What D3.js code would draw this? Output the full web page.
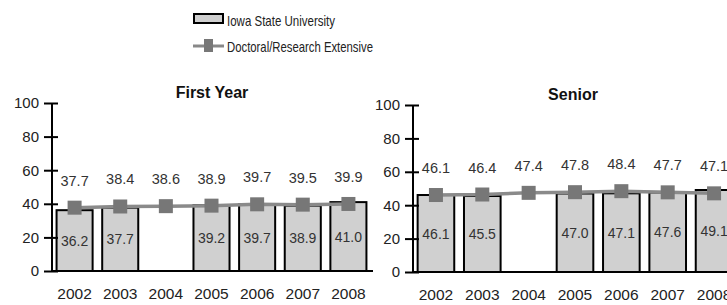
<!DOCTYPE html>
<html>
<head>
<meta charset="utf-8">
<script src="https://cdn.jsdelivr.net/npm/d3@7"></script>
<style>
    body { margin: 0; background: #fff; }
    svg { display: block; font-family: "Liberation Sans", Arial, sans-serif; }
</style>
</head>
<body>
<svg id="chart" width="727" height="305"></svg>
<script>
var years = ["2002", "2003", "2004", "2005", "2006", "2007", "2008"];
var yTicks = [0, 20, 40, 60, 80, 100];

var firstYearIsu = [36.2, 37.7, null, 39.2, 39.7, 38.9, 41.0];
var firstYearDre = [37.7, 38.4, 38.6, 38.9, 39.7, 39.5, 39.9];
var seniorIsu = [46.1, 45.5, null, 47.0, 47.1, 47.6, 49.1];
var seniorDre = [46.1, 46.4, 47.4, 47.8, 48.4, 47.7, 47.1];

var barName = "Iowa State University";
var lineName = "Doctoral/Research Extensive";

var svg = d3.select("#chart");

// legend (condensed font in the original, so squeeze the text)
var legend = svg.append("g");
legend.append("rect")
    .attr("x", 194).attr("y", 14)
    .attr("width", 29).attr("height", 9)
    .attr("fill", "#cfcfcf")
    .attr("stroke", "#000")
    .attr("stroke-width", 2);
legend.append("text")
    .attr("x", 227).attr("y", 26)
    .attr("font-size", 15).attr("fill", "#222")
    .attr("textLength", 108).attr("lengthAdjust", "spacingAndGlyphs")
    .text(barName);
legend.append("line")
    .attr("x1", 193).attr("x2", 224)
    .attr("y1", 46).attr("y2", 46)
    .attr("stroke", "#888").attr("stroke-width", 3);
legend.append("rect")
    .attr("x", 204).attr("y", 39)
    .attr("width", 9).attr("height", 13)
    .attr("fill", "#777");
legend.append("text")
    .attr("x", 227).attr("y", 51.5)
    .attr("font-size", 15).attr("fill", "#222")
    .attr("textLength", 146).attr("lengthAdjust", "spacingAndGlyphs")
    .text(lineName);

function drawPanel(p) {
    var g = svg.append("g");

    var x = d3.scaleBand()
        .domain(years)
        .range([p.left, p.right])
        .paddingInner(0.21)
        .paddingOuter(0.1);

    var y = d3.scaleLinear()
        .domain([0, 100])
        .range([p.bottom, p.top]);

    var rows = years.map((yr, i) => ({ year: yr, bar: p.bars[i], line: p.line[i] }));

    // bars
    g.selectAll(".bar")
        .data(rows.filter(d => d.bar != null))
        .enter().append("rect")
        .attr("x", d => x(d.year))
        .attr("y", d => y(d.bar))
        .attr("width", x.bandwidth())
        .attr("height", d => y(0) - y(d.bar))
        .attr("fill", "#d0d0d0")
        .attr("stroke", "#000")
        .attr("stroke-width", 2);

    g.selectAll(".barlabel")
        .data(rows.filter(d => d.bar != null))
        .enter().append("text")
        .attr("x", d => x(d.year) + x.bandwidth() / 2)
        .attr("y", d => y(d.bar / 2) + 5)
        .attr("text-anchor", "middle")
        .attr("font-size", 14).attr("fill", "#333")
        .text(d => d.bar.toFixed(1));

    // axis
    var yAxis = d3.axisLeft(y).tickValues(yTicks).tickSize(8).tickPadding(5);
    var ax = g.append("g")
        .attr("transform", `translate(${p.left},0)`)
        .call(yAxis);
    ax.select(".domain").remove();
    ax.selectAll(".tick line").attr("x2", -8).attr("x1", 6).attr("stroke", "#000").attr("stroke-width", 2);
    ax.selectAll(".tick text")
        .attr("font-size", 15).attr("fill", "#222")
        .attr("font-family", "Liberation Sans, Arial, sans-serif");
    g.append("line")
        .attr("x1", p.left).attr("x2", p.left)
        .attr("y1", y(100)).attr("y2", y(0))
        .attr("stroke", "#000").attr("stroke-width", 2);
    g.append("line")
        .attr("x1", p.left).attr("x2", p.right + 2)
        .attr("y1", y(0)).attr("y2", y(0))
        .attr("stroke", "#000").attr("stroke-width", 2);

    // line series
    var line = d3.line()
        .x(d => x(d.year) + x.bandwidth() / 2)
        .y(d => y(d.line));
    g.append("path")
        .datum(rows)
        .attr("fill", "none")
        .attr("stroke", "#8a8a8a")
        .attr("stroke-width", 3.5)
        .attr("d", line);
    g.selectAll(".marker")
        .data(rows)
        .enter().append("rect")
        .attr("x", d => x(d.year) + x.bandwidth() / 2 - 7)
        .attr("y", d => y(d.line) - 7)
        .attr("width", 14).attr("height", 14)
        .attr("fill", "#777");
    g.selectAll(".linelabel")
        .data(rows)
        .enter().append("text")
        .attr("x", d => x(d.year) + x.bandwidth() / 2)
        .attr("y", d => y(d.line) - 22)
        .attr("text-anchor", "middle")
        .attr("font-size", 14.5).attr("fill", "#333")
        .text(d => d.line.toFixed(1));

    // year labels
    g.selectAll(".year")
        .data(years)
        .enter().append("text")
        .attr("x", d => x(d) + x.bandwidth() / 2)
        .attr("y", p.bottom + 28)
        .attr("text-anchor", "middle")
        .attr("font-size", 15.5).attr("fill", "#222")
        .text(d => d);

    g.append("text")
        .attr("x", p.titleX).attr("y", p.top - 5)
        .attr("text-anchor", "middle")
        .attr("font-size", 16).attr("font-weight", "bold").attr("fill", "#111")
        .text(p.title);
}

drawPanel({ title: "First Year", bars: firstYearIsu, line: firstYearDre,
    left: 52, right: 371, top: 103, bottom: 271, titleX: 212 });
drawPanel({ title: "Senior", bars: seniorIsu, line: seniorDre,
    left: 413, right: 737, top: 105, bottom: 272, titleX: 573 });
</script>
</body>
</html>
